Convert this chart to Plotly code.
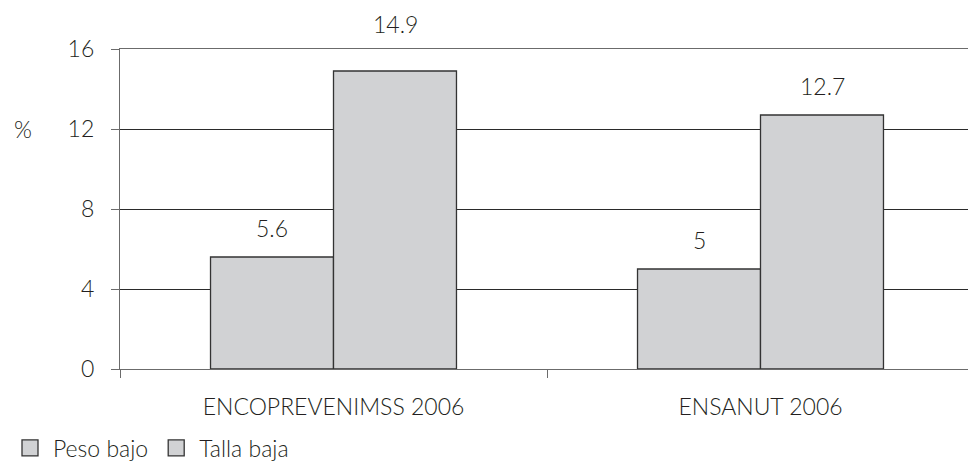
import plotly.graph_objects as go

categories = ["ENCOPREVENIMSS 2006", "ENSANUT 2006"]
series_names = ["Peso bajo", "Talla baja"]
peso_bajo = [5.6, 5.0]
talla_baja = [14.9, 12.7]
value_labels_peso = ["5.6", "5"]
value_labels_talla = ["14.9", "12.7"]
y_ticks = [0, 4, 8, 12, 16]

FONT = "Lato Light, Lato, sans-serif"
TXT = "#231f20"
BAR_FILL = "#d1d2d4"
BAR_LINE = "#333333"
AXIS_GRAY = "#6b6b6b"
GRID = "#2a2a2a"
FS = 23

fig = go.Figure()
for name, vals in zip(series_names, [peso_bajo, talla_baja]):
    fig.add_trace(go.Bar(
        x=categories, y=vals, name=name, showlegend=False,
        marker=dict(color=BAR_FILL, line=dict(color=BAR_LINE, width=1.3)),
    ))
    # legend-only proxy with a larger square swatch
    fig.add_trace(go.Scatter(
        x=[None], y=[None], mode="markers", name=name, showlegend=True,
        marker=dict(symbol="square", size=22, color=BAR_FILL,
                    line=dict(color=BAR_LINE, width=1.3)),
    ))

# value labels
half_bar_px = 61.5
label_shift = {"5.6": 13, "5": 13, "12.7": 13, "14.9": 31}
for i, cat in enumerate(categories):
    for vals, labs, sgn in [(peso_bajo, value_labels_peso, -1), (talla_baja, value_labels_talla, 1)]:
        fig.add_annotation(
            x=cat, y=vals[i], xref="x", yref="y", text=labs[i], showarrow=False,
            xshift=sgn * half_bar_px, yanchor="bottom", yshift=label_shift[labs[i]],
            font=dict(family=FONT, size=FS, color=TXT),
        )

# "%" label
fig.add_annotation(
    x=0, y=12, xref="paper", yref="y", text="%", showarrow=False,
    xanchor="left", xshift=-108, font=dict(family=FONT, size=FS, color=TXT),
)

W, H = 968, 463
L, T, B = 120, 49, 94
plot_w = W - L
unit_px = 427.0

fig.update_layout(
    width=W, height=H,
    margin=dict(l=L, r=0, t=T, b=B, pad=0, autoexpand=False),
    paper_bgcolor="white", plot_bgcolor="white",
    barmode="group", bargap=0.424, bargroupgap=0,
    font=dict(family=FONT, size=FS, color=TXT),
    showlegend=True,
    legend=dict(
        orientation="h", xref="container", x=7 / W, xanchor="left",
        yref="container", y=(H - 448) / H, yanchor="middle",
        font=dict(family=FONT, size=FS, color=TXT),
        bgcolor="rgba(0,0,0,0)", itemsizing="trace",
        tracegroupgap=0, itemwidth=36,
    ),
    xaxis=dict(
        type="category", range=[-0.5, -0.5 + plot_w / unit_px], automargin=False,
        showline=True, linecolor=AXIS_GRAY, linewidth=1.3, mirror=True,
        ticks="outside", tickson="boundaries", ticklen=8, tickcolor=AXIS_GRAY, tickwidth=1.3,
        showgrid=False, ticklabelstandoff=17,
        tickfont=dict(family=FONT, size=FS, color=TXT),
    ),
    yaxis=dict(
        range=[0, 16], tickvals=y_ticks, ticktext=[str(v) for v in y_ticks], automargin=False,
        showline=True, linecolor=AXIS_GRAY, linewidth=1.3,
        ticks="outside", ticklen=8, tickcolor=AXIS_GRAY, tickwidth=1.3,
        showgrid=True, gridcolor=GRID, gridwidth=1.3, zeroline=False,
        ticklabelstandoff=12,
        tickfont=dict(family=FONT, size=FS, color=TXT),
    ),
)

fig.write_html("out.html")
